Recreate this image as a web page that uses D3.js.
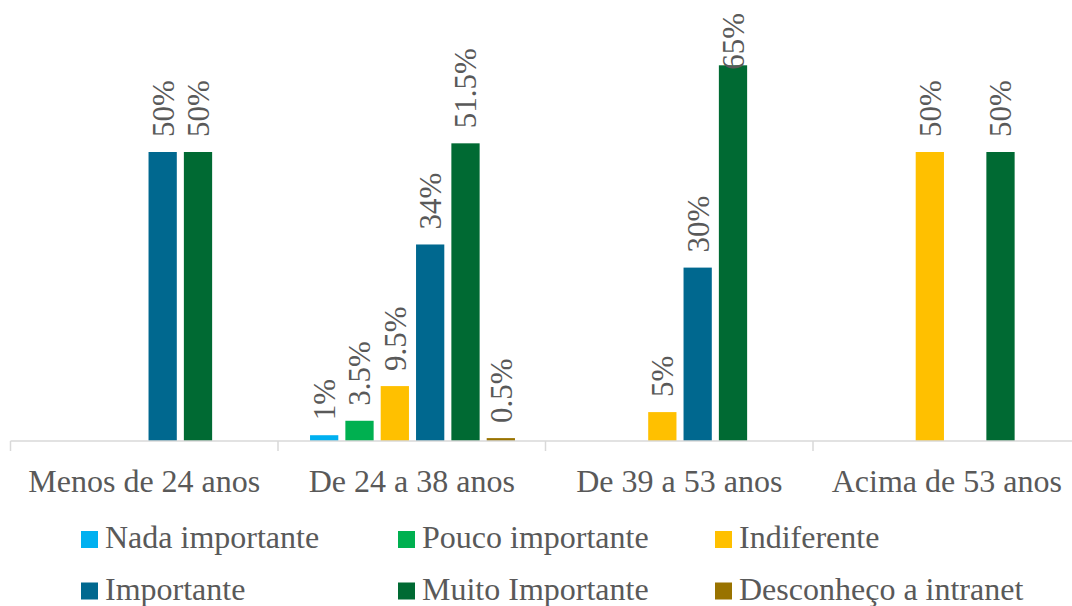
<!DOCTYPE html>
<html>
<head>
<meta charset="utf-8">
<script src="https://cdn.jsdelivr.net/npm/d3@7"></script>
<style>
  html, body { margin: 0; padding: 0; background: #ffffff; }
  svg { display: block; }
  text { font-family: "Liberation Serif", "Times New Roman", serif; fill: #595959; }
</style>
</head>
<body>
<svg id="chart" width="1072" height="606"></svg>
<script>
const categories = ["Menos de 24 anos", "De 24 a 38 anos", "De 39 a 53 anos", "Acima de 53 anos"];
const seriesNames = ["Nada importante", "Pouco importante", "Indiferente", "Importante", "Muito Importante", "Desconheço a intranet"];
const nadaImportante = [0, 1, 0, 0];
const poucoImportante = [0, 3.5, 0, 0];
const indiferente = [0, 9.5, 5, 50];
const importante = [50, 34, 30, 0];
const muitoImportante = [50, 51.5, 65, 50];
const desconheco = [0, 0.5, 0, 0];
const seriesColors = ["#00B0F0", "#00B050", "#FFC000", "#00688F", "#006A33", "#997300"];

const seriesValues = [nadaImportante, poucoImportante, indiferente, importante, muitoImportante, desconheco];

const svg = d3.select("#chart");
const baseY = 441;
const serif = "'Liberation Serif', 'Times New Roman', Times, serif";

const x = d3.scaleBand().domain(categories).range([10.5, 1080.5]).padding(0);
const groupW = x.bandwidth();
const xInner = d3.scaleBand().domain(seriesNames).range([28.5, groupW - 27]).paddingInner(0.2).paddingOuter(0.1);
const y = d3.scaleLinear().domain([0, 70]).range([baseY, baseY - 404.6]);
const color = d3.scaleOrdinal().domain(seriesNames).range(seriesColors);

const data = [];
seriesNames.forEach((s, si) => {
  categories.forEach((c, ci) => {
    data.push({ series: s, category: c, value: seriesValues[si][ci] });
  });
});
const shown = data.filter(d => d.value > 0);

// bars
svg.append("g").selectAll("rect").data(shown).join("rect")
  .attr("x", d => x(d.category) + xInner(d.series))
  .attr("y", d => y(d.value))
  .attr("width", xInner.bandwidth())
  .attr("height", d => baseY - y(d.value))
  .attr("fill", d => color(d.series));

// axis line and separators
const axis = svg.append("g");
axis.append("line")
  .attr("x1", x.range()[0]).attr("x2", x.range()[1])
  .attr("y1", baseY).attr("y2", baseY)
  .attr("stroke", "#D9D9D9").attr("stroke-width", 1.5);
const bounds = categories.map(c => x(c)).concat([x.range()[1]]);
axis.selectAll("line.tick").data(bounds).join("line")
  .attr("class", "tick")
  .attr("x1", d => d).attr("x2", d => d)
  .attr("y1", baseY).attr("y2", baseY + 10)
  .attr("stroke", "#D9D9D9").attr("stroke-width", 1.5);

// category labels
axis.selectAll("text").data(categories).join("text")
  .attr("x", d => x(d) + groupW / 2)
  .attr("y", 492)
  .attr("text-anchor", "middle")
  .style("font-family", serif)
  .style("font-size", "32px")
  .text(d => d);

// data labels
const labels = svg.append("g").selectAll("text").data(shown).join("text")
  .style("font-family", serif)
  .style("font-size", "31px")
  .attr("text-anchor", "start")
  .attr("dy", "0.35em")
  .text(d => d.value + "%");
labels.each(function(d) {
  const len = this.getComputedTextLength();
  let ay = y(d.value) - 15;
  if (ay - len < 13) ay = 13 + len;
  const cx = x(d.category) + xInner(d.series) + xInner.bandwidth() / 2;
  d3.select(this).attr("transform", `translate(${cx},${ay}) rotate(-90)`);
});

// legend
const legend = svg.append("g");
const legendItems = legend.selectAll("g").data(seriesNames).join("g")
  .attr("transform", (d, i) => `translate(${81 + (i % 3) * 317},${531 + Math.floor(i / 3) * 51.5})`);
legendItems.append("rect")
  .attr("width", 17).attr("height", 17)
  .attr("fill", d => color(d));
legendItems.append("text")
  .attr("x", 24).attr("y", 17)
  .style("font-family", serif)
  .style("font-size", "32px")
  .text(d => d);
</script>
</body>
</html>
